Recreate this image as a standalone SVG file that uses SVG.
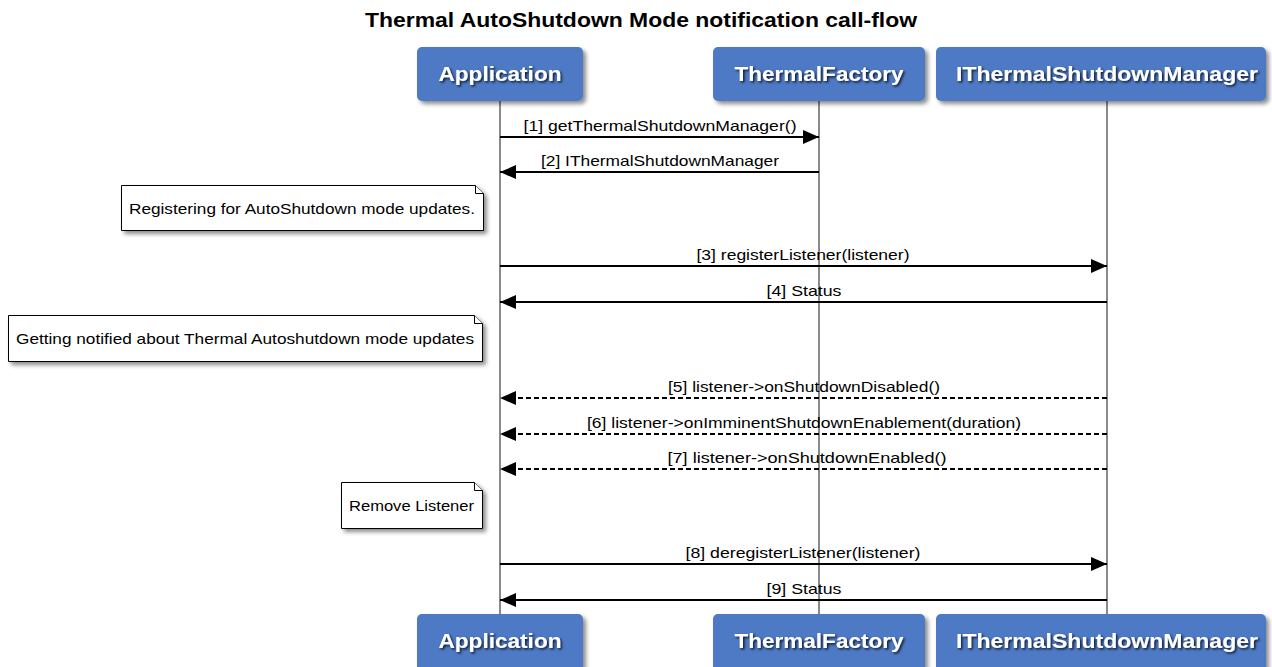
<svg xmlns="http://www.w3.org/2000/svg" width="1272" height="667" viewBox="0 0 1272 667">
<style>
.title{font-family:"Liberation Sans",Arial,sans-serif;font-weight:bold;font-size:20px;fill:#000}
.pl{font-family:"Liberation Sans",Arial,sans-serif;font-weight:bold;font-size:20px;fill:#fff}
.box{fill:#4e79c5}
.life{stroke:#8a8a8a;stroke-width:2;fill:none}
.msg{stroke:#000;stroke-width:2;fill:none}
.dash{stroke-dasharray:5,3}
.lbl{font-family:"Liberation Sans",Arial,sans-serif;font-size:15px;fill:#000}
.note{fill:#fff;stroke:#000;stroke-width:1}
.ntxt{font-family:"Liberation Sans",Arial,sans-serif;font-size:15px;fill:#000}
</style>
<defs>
<filter id="sh" x="-10%" y="-20%" width="130%" height="160%">
<feDropShadow dx="3" dy="3" stdDeviation="2" flood-color="#000" flood-opacity="0.45"/>
</filter>
<filter id="tsh" x="-10%" y="-30%" width="130%" height="180%">
<feDropShadow dx="1.5" dy="1.5" stdDeviation="1" flood-color="#000" flood-opacity="0.8"/>
</filter>
<marker id="ah" viewBox="0 0 16 14" refX="16" refY="7" markerWidth="16" markerHeight="14" markerUnits="userSpaceOnUse" orient="auto">
<path d="M0,0 L16,7 L0,14 Z" fill="#000"/>
</marker>
</defs>
<rect width="1272" height="667" fill="#fff"/>
<text class="title" x="641" y="27" text-anchor="middle" textLength="552" lengthAdjust="spacingAndGlyphs">Thermal AutoShutdown Mode notification call-flow</text>

<g id="lifelines">
<line class="life" x1="500" y1="100" x2="500" y2="614"/>
<line class="life" x1="819" y1="100" x2="819" y2="614"/>
<line class="life" x1="1107" y1="100" x2="1107" y2="614"/>
</g>

<g id="application">
<rect class="box" x="417" y="47" width="166" height="54" rx="5" filter="url(#sh)"/>
<text class="pl" x="500" y="81" text-anchor="middle" textLength="123" lengthAdjust="spacingAndGlyphs" filter="url(#tsh)">Application</text>
<rect class="box" x="417" y="614" width="166" height="60" rx="5" filter="url(#sh)"/>
<text class="pl" x="500" y="648" text-anchor="middle" textLength="123" lengthAdjust="spacingAndGlyphs" filter="url(#tsh)">Application</text>
</g>
<g id="thermalfactory">
<rect class="box" x="713" y="47" width="212" height="54" rx="5" filter="url(#sh)"/>
<text class="pl" x="819" y="81" text-anchor="middle" textLength="169" lengthAdjust="spacingAndGlyphs" filter="url(#tsh)">ThermalFactory</text>
<rect class="box" x="713" y="614" width="212" height="60" rx="5" filter="url(#sh)"/>
<text class="pl" x="819" y="648" text-anchor="middle" textLength="169" lengthAdjust="spacingAndGlyphs" filter="url(#tsh)">ThermalFactory</text>
</g>
<g id="ithermalshutdownmanager">
<rect class="box" x="936" y="47" width="330" height="54" rx="5" filter="url(#sh)"/>
<text class="pl" x="1107" y="81" text-anchor="middle" textLength="302" lengthAdjust="spacingAndGlyphs" filter="url(#tsh)">IThermalShutdownManager</text>
<rect class="box" x="936" y="614" width="330" height="60" rx="5" filter="url(#sh)"/>
<text class="pl" x="1107" y="648" text-anchor="middle" textLength="302" lengthAdjust="spacingAndGlyphs" filter="url(#tsh)">IThermalShutdownManager</text>
</g>

<g id="note1">
<path class="note" d="M121.5,185.5 H475.5 L483.5,193.5 V230.5 H121.5 Z" filter="url(#sh)"/>
<path class="note" d="M475.5,185.5 V193.5 H483.5"/>
<text class="ntxt" x="129" y="214" textLength="346" lengthAdjust="spacingAndGlyphs">Registering for AutoShutdown mode updates.</text>
</g>
<g id="note2">
<path class="note" d="M8.5,315.5 H474.5 L482.5,323.5 V361.5 H8.5 Z" filter="url(#sh)"/>
<path class="note" d="M474.5,315.5 V323.5 H482.5"/>
<text class="ntxt" x="16" y="344" textLength="458" lengthAdjust="spacingAndGlyphs">Getting notified about Thermal Autoshutdown mode updates</text>
</g>
<g id="note3">
<path class="note" d="M341.5,482.5 H474.5 L482.5,490.5 V528.5 H341.5 Z" filter="url(#sh)"/>
<path class="note" d="M474.5,482.5 V490.5 H482.5"/>
<text class="ntxt" x="349" y="511" textLength="125" lengthAdjust="spacingAndGlyphs">Remove Listener</text>
</g>

<g id="connectors">
<line class="msg" x1="500" y1="137" x2="819" y2="137" marker-end="url(#ah)"/>
<text class="lbl" x="660" y="131" text-anchor="middle" textLength="273" lengthAdjust="spacingAndGlyphs">[1] getThermalShutdownManager()</text>
<line class="msg" x1="819" y1="172" x2="500" y2="172" marker-end="url(#ah)"/>
<text class="lbl" x="660" y="166" text-anchor="middle" textLength="238" lengthAdjust="spacingAndGlyphs">[2] IThermalShutdownManager</text>
<line class="msg" x1="500" y1="266" x2="1107" y2="266" marker-end="url(#ah)"/>
<text class="lbl" x="803" y="260" text-anchor="middle" textLength="213" lengthAdjust="spacingAndGlyphs">[3] registerListener(listener)</text>
<line class="msg" x1="1107" y1="302" x2="500" y2="302" marker-end="url(#ah)"/>
<text class="lbl" x="804" y="296" text-anchor="middle" textLength="75" lengthAdjust="spacingAndGlyphs">[4] Status</text>
<line class="msg dash" x1="1107" y1="398" x2="500" y2="398" marker-end="url(#ah)"/>
<text class="lbl" x="804" y="392" text-anchor="middle" textLength="272" lengthAdjust="spacingAndGlyphs">[5] listener-&gt;onShutdownDisabled()</text>
<line class="msg dash" x1="1107" y1="434" x2="500" y2="434" marker-end="url(#ah)"/>
<text class="lbl" x="804" y="428" text-anchor="middle" textLength="434" lengthAdjust="spacingAndGlyphs">[6] listener-&gt;onImminentShutdownEnablement(duration)</text>
<line class="msg dash" x1="1107" y1="469" x2="500" y2="469" marker-end="url(#ah)"/>
<text class="lbl" x="807" y="463" text-anchor="middle" textLength="279" lengthAdjust="spacingAndGlyphs">[7] listener-&gt;onShutdownEnabled()</text>
<line class="msg" x1="500" y1="564" x2="1107" y2="564" marker-end="url(#ah)"/>
<text class="lbl" x="803" y="558" text-anchor="middle" textLength="235" lengthAdjust="spacingAndGlyphs">[8] deregisterListener(listener)</text>
<line class="msg" x1="1107" y1="600" x2="500" y2="600" marker-end="url(#ah)"/>
<text class="lbl" x="804" y="594" text-anchor="middle" textLength="75" lengthAdjust="spacingAndGlyphs">[9] Status</text>
</g>
</svg>
